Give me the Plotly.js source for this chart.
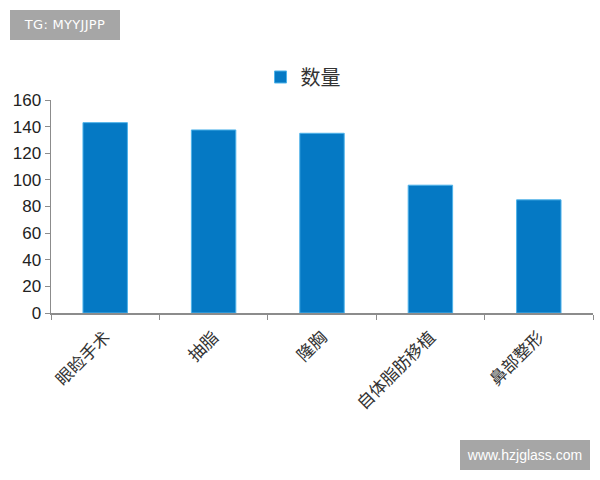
<!DOCTYPE html>
<html>
<head>
<meta charset="utf-8">
<script src="https://cdn.plot.ly/plotly-3.0.1.min.js"></script>
<style>
  html, body { margin: 0; padding: 0; background: #fff; }
  #wrap { position: relative; width: 600px; height: 480px; }
  #graph { width: 600px; height: 480px; }
  .mark { position: absolute; background: #a6a6a6; color: #fff; text-align: center; }
  #tg { font: 13px 'DejaVu Sans', sans-serif; letter-spacing: 0.3px;
        left: 10px; top: 10px; width: 110px; height: 30px; line-height: 30px; }
  #site { font: 14px 'Liberation Sans', Arial, sans-serif;
          left: 460px; top: 440px; width: 130px; height: 30px; line-height: 30px; }
</style>
</head>
<body>
<div id="wrap">
  <div id="graph"></div>
  <div class="mark" id="tg">TG: MYYJJPP</div>
  <div class="mark" id="site">www.hzjglass.com</div>
</div>
<script>
"use strict";

// 数据
const categories = ['眼睑手术', '抽脂', '隆胸', '自体脂肪移植', '鼻部整形'];
const counts = [143, 137.5, 135, 96, 85];
const seriesName = '数量';
const yTicks = [0, 20, 40, 60, 80, 100, 120, 140, 160];

const trace = {
    x: categories, y: counts, type: 'bar', name: seriesName,
    marker: { color: '#0579c4', line: { color: '#4fb3ea', width: 1 } },
    showlegend: true
};

const layout = {
    width: 600, height: 480,
    paper_bgcolor: '#fff', plot_bgcolor: '#fff',
    margin: { l: 51, r: 7, t: 100, b: 167 },
    bargap: 0.59,
    font: { family: 'Liberation Sans, Arial, sans-serif', color: '#222' },
    showlegend: true,
    legend: {
        orientation: 'h', x: 0.465, xanchor: 'center', y: 1.108, yanchor: 'middle',
        itemwidth: 30,
        font: { size: 20, family: 'Noto Sans CJK SC, sans-serif', color: '#333' }
    },
    xaxis: {
        showline: true, linecolor: '#8c8c8c', linewidth: 1.5,
        ticks: 'outside', ticklen: 5, tickcolor: '#8c8c8c', tickson: 'boundaries',
        tickangle: -45, showgrid: false, ticklabelstandoff: 6,
        tickfont: { size: 17, family: 'Noto Sans CJK SC, serif', color: '#333' }
    },
    yaxis: {
        range: [0, 160], tickvals: yTicks, showline: true, linecolor: '#8c8c8c', linewidth: 1.5,
        ticks: 'outside', ticklen: 5, tickcolor: '#8c8c8c', showgrid: false, zeroline: false,
        tickfont: { size: 17, color: '#222' }
    }
};

Plotly.newPlot('graph', [trace], layout, { displayModeBar: false, staticPlot: true });
</script>
</body>
</html>
